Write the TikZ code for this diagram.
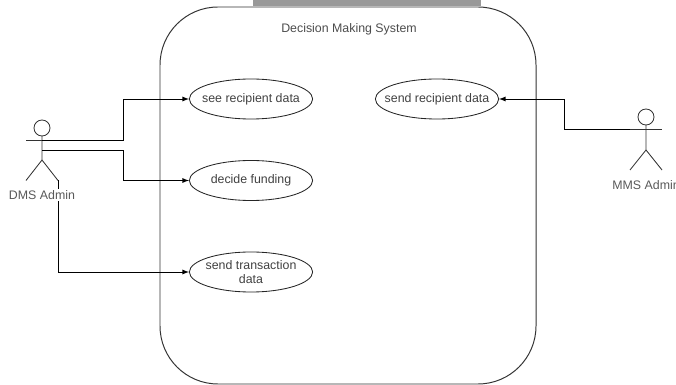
\documentclass[tikz,border=0pt]{standalone}
\usepackage{fontspec}
\setmainfont{Liberation Sans}
\usetikzlibrary{arrows,calc,positioning,shapes.geometric}
\tikzset{
usecase/.style={draw=black!85,ellipse,line width=0.6pt,minimum width=3.08cm,minimum height=1cm,inner sep=-0.4cm,align=center,text=black!75},
actorlabel/.style={text=black!65},
actorline/.style={line width=0.6pt,black!80},
link/.style={draw,line width=0.6pt,-latex},
}
\begin{document}
\begin{tikzpicture}[x=0.025cm,y=-0.025cm,font=\fontsize{8.8pt}{10.5pt}\selectfont]
\useasboundingbox (0,0) rectangle (676,385);
\clip (0,0) rectangle (676,385);
\fill[black!40] (253,0) rectangle (481,6);
% system
\draw[line width=0.7pt,black!80,rounded corners=1.45cm] (160,7) rectangle (536,384);
\node[text=black!70] (title) at (349,29) {Decision Making System};
% use cases
\node[usecase] (see) at (251,99) {\raisebox{-1pt}{see recipient data}};
\node[usecase] (decide) at (251,180.5) {\raisebox{-1pt}{decide funding}};
\node[usecase] (send) at (251,272) {\raisebox{-1pt}{send transaction}\\\raisebox{-1pt}{data}};
\node[usecase] (recipient) at (437,99) {\raisebox{-1pt}{send recipient data}};
% left actor
\draw[actorline] (42,128) circle (8);
\draw[actorline] (42,136) -- (42,160) coordinate(hipL) -- (26,180.5);
\draw[actorline] (hipL) -- (58,180.5) coordinate(footL);
\draw[actorline] (26,140) -- (42,140) coordinate(armL);
\coordinate (waistL) at (42,150);
% right actor
\draw[actorline] (646,117) circle (8);
\draw[actorline] (646,125) -- (646,150) coordinate(hipR) -- (630,170);
\draw[actorline] (hipR) -- (662,170);
\draw[actorline] (630,129) coordinate(armR) -- (662,129);
\node[actorlabel] (mms) at (646,185) {MMS Admin};
% connectors
\draw[link] (armL) -- ++(81,0) |- (see);
\draw[link] (waistL) -- ++(81,0) |- (decide);
\draw[link] (footL) |- (send);
\draw[link] (armR) -- ++(-66,0) |- (recipient);
\node[actorlabel,fill=white,inner sep=1pt] (dms) at (42,195) {DMS Admin};
\end{tikzpicture}
\end{document}
